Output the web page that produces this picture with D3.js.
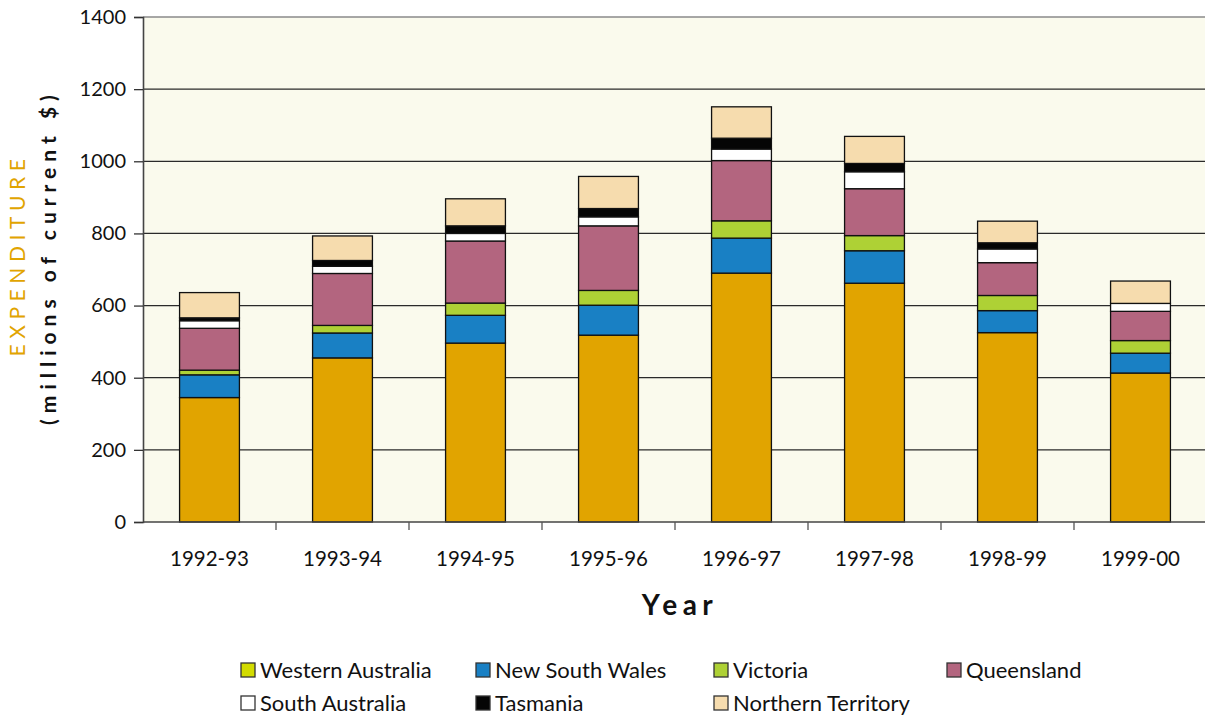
<!DOCTYPE html>
<html>
<head>
<meta charset="utf-8">
<script src="https://cdn.jsdelivr.net/npm/d3@7"></script>
<style>
  body { margin: 0; background: #fff; }
  svg { display: block; font-family: Lato, "Open Sans", sans-serif; }
</style>
</head>
<body>
<div id="chart"></div>
<script>
// years on the x axis
const years = ["1992-93", "1993-94", "1994-95", "1995-96", "1996-97", "1997-98", "1998-99", "1999-00"];
// state series, bottom of stack first (millions of current $)
const westernAustralia = [345, 455, 496, 518, 690, 662, 525, 413];
const newSouthWales    = [63, 69, 77, 83, 97, 90, 61, 55];
const victoria         = [13, 21, 34, 41, 48, 42, 42, 35];
const queensland       = [116, 144, 172, 179, 167, 130, 91, 81];
const southAustralia   = [21, 20, 21, 25, 32, 47, 38, 22];
const tasmania         = [8, 16, 21, 23, 30, 23, 17, 0];
const northernTerritory = [70, 68, 75, 89, 87, 75, 60, 62];
const yTicks = [0, 200, 400, 600, 800, 1000, 1200, 1400];

const series = [
  {key: "wa",  name: "Western Australia",  values: westernAustralia,  fill: "#e1a400", swatch: "#d3dc00"},
  {key: "nsw", name: "New South Wales",    values: newSouthWales,     fill: "#1980c4", swatch: "#1980c4"},
  {key: "vic", name: "Victoria",           values: victoria,          fill: "#aed135", swatch: "#aed135"},
  {key: "qld", name: "Queensland",         values: queensland,        fill: "#b3657f", swatch: "#b3657f"},
  {key: "sa",  name: "South Australia",    values: southAustralia,    fill: "#ffffff", swatch: "#ffffff"},
  {key: "tas", name: "Tasmania",           values: tasmania,          fill: "#050505", swatch: "#050505"},
  {key: "nt",  name: "Northern Territory", values: northernTerritory, fill: "#f6dcae", swatch: "#f6dcae"}
];

const width = 1205, height = 719;
const plot = {left: 143, right: 1207, top: 17, bottom: 522};

const svg = d3.select("#chart").append("svg")
  .attr("width", width)
  .attr("height", height);

const table = years.map((y, i) => {
  let row = {year: y};
  series.forEach(s => { row[s.key] = s.values[i]; });
  return row;
});
const stacked = d3.stack().keys(series.map(s => s.key))(table);

const x = d3.scaleBand()
  .domain(years)
  .range([plot.left, plot.right])
  .paddingInner(0.55)
  .paddingOuter(0.275);
const y = d3.scaleLinear()
  .domain([0, 1400])
  .range([plot.bottom, plot.top]);

// plot background
svg.append("rect")
  .attr("x", plot.left)
  .attr("y", plot.top)
  .attr("width", plot.right - plot.left)
  .attr("height", plot.bottom - plot.top)
  .attr("fill", "#fafaed");

// gridlines
svg.append("g")
  .selectAll("line")
  .data(yTicks.filter(d => d > 0))
  .enter()
  .append("line")
    .attr("x1", plot.left)
    .attr("x2", plot.right)
    .attr("y1", d => y(d))
    .attr("y2", d => y(d))
    .attr("stroke", d => d == 1400 ? "#8a8a8a" : "#2a2a2a")
    .attr("stroke-width", 1.3);

// bars
svg.append("g")
  .selectAll("g")
  .data(stacked)
  .enter()
  .append("g")
    .attr("fill", (d, i) => series[i].fill)
  .selectAll("rect")
  .data(d => d)
  .enter()
  .filter(d => d[1] - d[0] > 0)
  .append("rect")
    .attr("x", d => x(d.data.year))
    .attr("y", d => y(d[1]))
    .attr("width", x.bandwidth())
    .attr("height", d => y(d[0]) - y(d[1]))
    .attr("stroke", "#111")
    .attr("stroke-width", 1.3);

// y axis
const yAxis = svg.append("g")
  .attr("transform", `translate(${plot.left},0)`)
  .call(d3.axisLeft(y).tickValues(yTicks).tickSize(9).tickPadding(8).tickFormat(d3.format("d")));
yAxis.select(".domain").attr("stroke", "#444").attr("stroke-width", 1.6);
yAxis.selectAll(".tick line").attr("stroke", "#333").attr("stroke-width", 1.3);
yAxis.selectAll(".tick text")
  .attr("font-size", 20)
  .attr("fill", "#111")
  .attr("font-family", "Lato, sans-serif");

// x axis line and ticks between categories
svg.append("line")
  .attr("x1", plot.left)
  .attr("x2", plot.right)
  .attr("y1", plot.bottom)
  .attr("y2", plot.bottom)
  .attr("stroke", "#444")
  .attr("stroke-width", 1.6);
svg.append("g")
  .selectAll("line")
  .data(years.slice(1))
  .enter()
  .append("line")
    .attr("x1", d => x(d) - x.step() * x.paddingInner() / 2)
    .attr("x2", d => x(d) - x.step() * x.paddingInner() / 2)
    .attr("y1", plot.bottom)
    .attr("y2", plot.bottom + 8)
    .attr("stroke", "#555")
    .attr("stroke-width", 1.3);
svg.append("g")
  .selectAll("text")
  .data(years)
  .enter()
  .append("text")
    .attr("x", d => x(d) + x.bandwidth() / 2)
    .attr("y", 566)
    .attr("text-anchor", "middle")
    .attr("font-size", 20.5)
    .attr("fill", "#111")
    .text(d => d);

// axis titles
svg.append("text")
  .attr("x", 680)
  .attr("y", 615)
  .attr("text-anchor", "middle")
  .attr("font-size", 28)
  .attr("font-weight", "bold")
  .attr("letter-spacing", 5.5)
  .attr("fill", "#111")
  .text("Year");

svg.append("text")
  .attr("transform", "translate(25,255) rotate(-90)")
  .attr("text-anchor", "middle")
  .attr("font-size", 21)
  .attr("letter-spacing", 5.6)
  .attr("fill", "#e1a400")
  .text("EXPENDITURE");
svg.append("text")
  .attr("transform", "translate(56,257) rotate(-90)")
  .attr("text-anchor", "middle")
  .attr("font-size", 21)
  .attr("font-weight", "bold")
  .attr("letter-spacing", 6)
  .attr("fill", "#111")
  .text("(millions of current $)");

// legend
const legendX = [241, 476, 714, 947];
const legendY = [670, 703];
const legend = svg.append("g")
  .selectAll("g")
  .data(series)
  .enter()
  .append("g")
    .attr("transform", (d, i) => `translate(${legendX[i < 4 ? i : i - 4]},${legendY[i < 4 ? 0 : 1]})`);
legend.append("rect")
  .attr("x", 0)
  .attr("y", -7)
  .attr("width", 14)
  .attr("height", 14)
  .attr("fill", d => d.swatch)
  .attr("stroke", "#333")
  .attr("stroke-width", 1.3);
legend.append("text")
  .attr("x", 19)
  .attr("y", 8)
  .attr("font-size", 22)
  .attr("fill", "#111")
  .text(d => d.name);
</script>
</body>
</html>
